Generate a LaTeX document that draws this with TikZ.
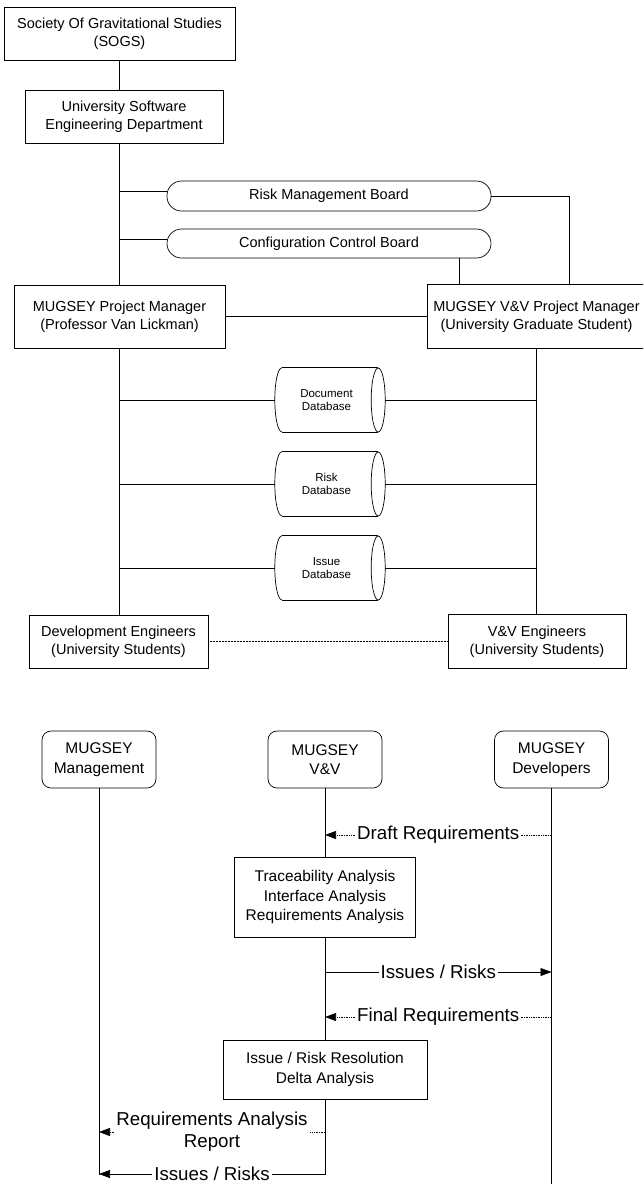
\documentclass[tikz,border=0pt]{standalone}
\usepackage{fontspec}
\setmainfont{Liberation Sans}
\usetikzlibrary{arrows.meta}
\begin{document}
\begin{tikzpicture}[x=1pt,y=-1pt,
  every node/.style={inner sep=0pt, align=center},
  link/.style={line width=0.7pt},
  orgbox/.style={draw, line width=0.7pt, font=\fontsize{14.5}{18}\selectfont},
  board/.style={draw, line width=0.7pt, rounded corners=14.5pt, minimum width=324pt,
    font=\fontsize{14.5}{18}\selectfont},
  store/.style={minimum width=89pt, minimum height=64pt, font=\fontsize{11.5}{13.5}\selectfont},
  actor/.style={draw, line width=0.7pt, rounded corners=9pt, minimum width=114pt,
    minimum height=57pt, font=\fontsize{15.5}{19.5}\selectfont},
  activity/.style={draw, line width=0.7pt, font=\fontsize{15.5}{19.5}\selectfont},
  msglabel/.style={fill=white, font=\fontsize{18.7}{22}\selectfont, inner xsep=2pt, inner ysep=0pt},
  msg/.style={line width=0.7pt, -{Triangle[length=11pt,width=8pt]}},
  msgdot/.style={msg, dash pattern=on 1.4pt off 1pt},
]
\useasboundingbox (0,0) rectangle (643,1184);
\fill[white] (0,0) rectangle (643,1184);
\clip (0,0) rectangle (643,1184);

% ---------------- organisation chart ----------------
\node[orgbox, minimum width=231pt, minimum height=53pt] (sogs) at (119.5,33.5)
  {Society Of Gravitational Studies\\(SOGS)};
\node[orgbox, minimum width=198pt, minimum height=53pt] (dept) at (124,116.5)
  {University Software\\Engineering Department};
\node[board, minimum height=30pt] (rmb) at (329,196) {Risk Management Board};
\node[board, minimum height=29pt] (ccb) at (329,243.5) {Configuration Control Board};
\node[orgbox, minimum width=211pt, minimum height=63pt] (pm) at (119.5,316.5)
  {MUGSEY Project Manager\\(Professor Van Lickman)};
\node[orgbox, minimum width=219pt, minimum height=64pt] (vvpm) at (536.5,316.5)
  {MUGSEY V\&V Project Manager\\(University Graduate Student)};

\node[store] (docdb) at (326.5,400) {Document\\Database};
\node[store] (riskdb) at (326.5,484) {Risk\\Database};
\node[store] (issuedb) at (326.5,568) {Issue\\Database};

% cylinder outlines around the database nodes
\foreach \db in {docdb,riskdb,issuedb}{
  \draw[link] (\db.north west) -- ([xshift=7pt]\db.north east);
  \draw[link] (\db.south west) -- ([xshift=7pt]\db.south east);
  \draw[link] ([xshift=7pt]\db.east) ellipse [x radius=7pt, y radius=32pt];
  \draw[link] (\db.north west) arc [start angle=90, end angle=270, x radius=7pt, y radius=32pt];
}

\node[orgbox, minimum width=179pt, minimum height=53pt] (deveng) at (118.5,641.5)
  {Development Engineers\\(University Students)};
\node[orgbox, minimum width=178pt, minimum height=54pt] (vveng) at (537,641.5)
  {V\&V Engineers\\(University Students)};

% reporting lines
\draw[link] (sogs.south) -- (sogs.south |- dept.north);
\draw[link] (sogs.south |- dept.south) -- (pm.north);
\coordinate (rmbin) at ([yshift=5pt]rmb.west);
\coordinate (ccbin) at ([yshift=4pt]ccb.west);
\draw[link] (rmbin -| pm.north) -- (rmbin);
\draw[link] (ccbin -| pm.north) -- (ccbin);
\coordinate (rmbx) at (569,0);
\coordinate (ccbx) at (459,0);
\draw[link] (rmb.east) -| (rmbx |- vvpm.north);
\draw[link] (ccbx |- ccb.south) -- (ccbx |- vvpm.north);
\draw[link] (pm.east) -- (vvpm.west);
\draw[link] (pm.south) -- (pm.south |- deveng.north);
\draw[link] (vvpm.south) -- (vvpm.south |- vveng.north);
\foreach \db in {docdb,riskdb,issuedb}{
  \draw[link] (pm.south |- \db.west) -- ([xshift=-7pt]\db.west);
  \draw[link] ([xshift=14pt]\db.east) -- (vvpm.south |- \db.east);
}
\draw[densely dotted, line width=0.5pt] (deveng.east) -- (vveng.west);

% ---------------- sequence of activities ----------------
\node[actor] (mgmt) at (99,759.5) {MUGSEY\\Management};
\node[actor] (vv) at (325,759.5) {MUGSEY\\V\&V};
\node[actor] (dev) at (551.5,759.5) {MUGSEY\\Developers};
\node[activity, minimum width=181pt, minimum height=80pt] (trace) at (325,897)
  {Traceability Analysis\\Interface Analysis\\Requirements Analysis};
\node[activity, minimum width=204pt, minimum height=59pt] (resolve) at (325,1069.5)
  {Issue / Risk Resolution\\Delta Analysis};

\coordinate (mgmtend) at (99,1174);
\coordinate (devend) at (551.5,1186);
\coordinate (ydraft) at (0,835);
\coordinate (yissues) at (0,972);
\coordinate (yfinal) at (0,1017);
\coordinate (yreport) at (0,1132);

% lifelines
\draw[link] (mgmt.south) -- ([yshift=-1pt]mgmtend);
\draw[link] (dev.south) -- (devend);
\draw[link] (vv.south) -- (trace.north);
\draw[link] (trace.south) -- (resolve.north);

% messages
\draw[msgdot] (dev.south |- ydraft) -- node[msglabel] {Draft Requirements} (vv.south |- ydraft);
\draw[msg] (vv.south |- yissues) -- node[msglabel] {Issues / Risks} (dev.south |- yissues);
\draw[msgdot] (dev.south |- yfinal) -- node[msglabel] {Final Requirements} (vv.south |- yfinal);
\draw[msgdot] (vv.south |- yreport) -- node[msglabel] {Requirements Analysis\\Report} (mgmt.south |- yreport);
\draw[msg] (resolve.south) |- node[msglabel, pos=0.75] {Issues / Risks} (mgmtend);
\end{tikzpicture}
\end{document}
